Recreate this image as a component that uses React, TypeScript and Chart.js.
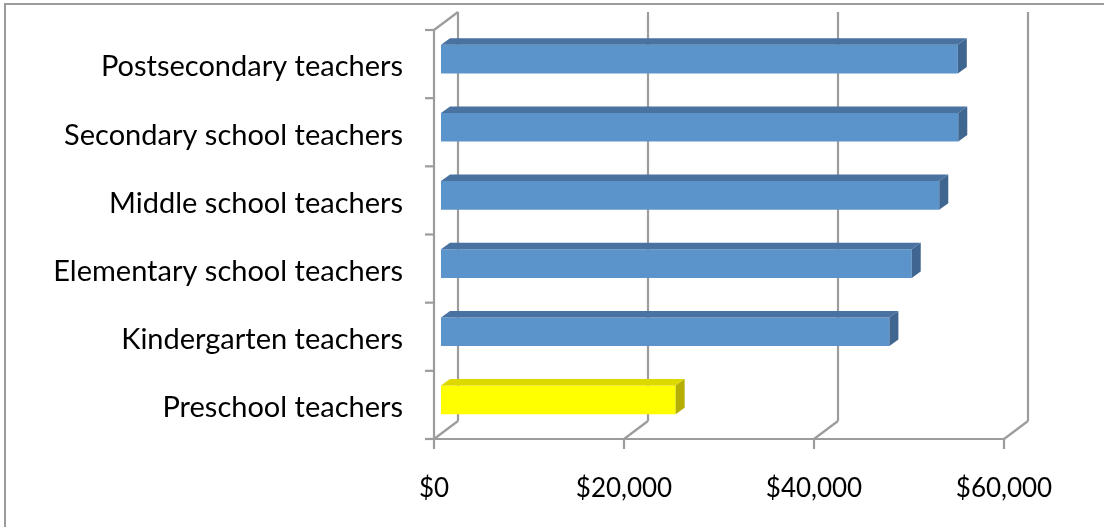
import { useEffect, useRef } from "react";
import { Chart, registerables } from "chart.js";

Chart.register(...registerables);

const categories = [
  "Postsecondary teachers",
  "Secondary school teachers",
  "Middle school teachers",
  "Elementary school teachers",
  "Kindergarten teachers",
  "Preschool teachers",
];
const salaries = [54400, 54450, 52450, 49550, 47200, 24700];
const xTicks = [0, 20000, 40000, 60000];

const FRONT_COLORS = ["#5A94CB", "#5A94CB", "#5A94CB", "#5A94CB", "#5A94CB", "#FFFF00"];
const TOP_COLORS = ["#4A72A0", "#4A72A0", "#4A72A0", "#4A72A0", "#4A72A0", "#DCD800"];
const SIDE_COLORS = ["#3F6591", "#3F6591", "#3F6591", "#3F6591", "#3F6591", "#B4AF00"];

const GRID = "#9c9c9c";
const DX = 24;
const DY = -18;
const BAR_DX = 7;
const BAR_DY = -5;
const DEPTH_DX = 9;
const DEPTH_DY = -6.5;

const threeD = {
  id: "threeD",
  beforeDraw(chart: any) {
    const ctx = chart.ctx;
    ctx.save();
    ctx.strokeStyle = GRID;
    ctx.lineWidth = 2;
    ctx.strokeRect(5, 4, 1200, 600);
    ctx.restore();
  },
  beforeDatasetsDraw(chart: any) {
    const ctx = chart.ctx;
    const xs = chart.scales.x;
    const ys = chart.scales.y;
    const { left, right, top, bottom } = chart.chartArea;
    ctx.save();
    ctx.strokeStyle = GRID;
    ctx.lineWidth = 2.2;
    ctx.lineCap = "butt";
    const line = (x1: number, y1: number, x2: number, y2: number) => {
      ctx.beginPath();
      ctx.moveTo(x1, y1);
      ctx.lineTo(x2, y2);
      ctx.stroke();
    };
    xTicks.forEach((v) => {
      const px = xs.getPixelForValue(v);
      line(px + DX, top + DY, px + DX, bottom + DY);
      line(px, bottom, px + DX, bottom + DY);
      line(px, bottom, px, bottom + 10);
    });
    line(left, bottom, right, bottom);
    line(left, top, left, bottom);
    line(left, top, left + DX, top + DY);
    for (let i = 0; i <= categories.length; i++) {
      const py = ys.getPixelForValue(i - 0.5);
      line(left - 9, py, left, py);
    }
    ctx.restore();
    ctx.save();
    ctx.translate(BAR_DX, BAR_DY);
  },
  afterDatasetsDraw(chart: any) {
    const ctx = chart.ctx;
    const meta = chart.getDatasetMeta(0);
    meta.data.forEach((bar: any, i: number) => {
      const p = bar.getProps(["x", "y", "base", "height"], true);
      const t = p.y - p.height / 2;
      const b = p.y + p.height / 2;
      ctx.fillStyle = TOP_COLORS[i];
      ctx.beginPath();
      ctx.moveTo(p.base, t);
      ctx.lineTo(p.x, t);
      ctx.lineTo(p.x + DEPTH_DX, t + DEPTH_DY);
      ctx.lineTo(p.base + DEPTH_DX, t + DEPTH_DY);
      ctx.closePath();
      ctx.fill();
      ctx.fillStyle = SIDE_COLORS[i];
      ctx.beginPath();
      ctx.moveTo(p.x, t);
      ctx.lineTo(p.x + DEPTH_DX, t + DEPTH_DY);
      ctx.lineTo(p.x + DEPTH_DX, b + DEPTH_DY);
      ctx.lineTo(p.x, b);
      ctx.closePath();
      ctx.fill();
    });
    ctx.restore();
  },
};

export default function App() {
  const ref = useRef<HTMLCanvasElement | null>(null);
  useEffect(() => {
    if (!ref.current) return;
    const chart = new Chart(ref.current, {
      type: "bar",
      data: {
        labels: categories,
        datasets: [
          {
            data: salaries,
            backgroundColor: FRONT_COLORS,
            borderWidth: 0,
            barPercentage: 0.42,
            categoryPercentage: 1,
          },
        ],
      },
      options: {
        indexAxis: "y",
        animation: false,
        responsive: false,
        events: [],
        layout: { padding: { top: 30, right: 100, left: 0, bottom: 0 } },
        plugins: { legend: { display: false }, tooltip: { enabled: false } },
        scales: {
          x: {
            min: 0,
            max: 60000,
            afterBuildTicks: (scale: any) => {
              scale.ticks = xTicks.map((v) => ({ value: v }));
            },
            afterFit: (scale: any) => {
              scale.height = 88;
              scale.paddingLeft = 0;
              scale.paddingRight = 0;
            },
            grid: { display: false, drawTicks: false, tickLength: 0 },
            border: { display: false },
            ticks: {
              padding: 34,
              color: "#000",
              font: { family: "Lato", size: 26 },
              maxRotation: 0,
              autoSkip: false,
              callback: (v: any) => "$" + Number(v).toLocaleString("en-US"),
            },
          },
          y: {
            afterFit: (scale: any) => {
              scale.width = 434;
              scale.paddingTop = 0;
              scale.paddingBottom = 0;
            },
            grid: { display: false, drawTicks: false, tickLength: 0 },
            border: { display: false },
            ticks: {
              padding: 31,
              labelOffset: 3,
              color: "#000",
              font: { family: "Lato", size: 29 },
              autoSkip: false,
            },
          },
        },
      },
      plugins: [threeD],
    });
    return () => chart.destroy();
  }, []);
  return (
    <div style={{ position: "absolute", left: 0, top: 0, width: 1104, height: 527, background: "#fff" }}>
      <canvas ref={ref} width={1104} height={527} style={{ display: "block" }} />
    </div>
  );
}
